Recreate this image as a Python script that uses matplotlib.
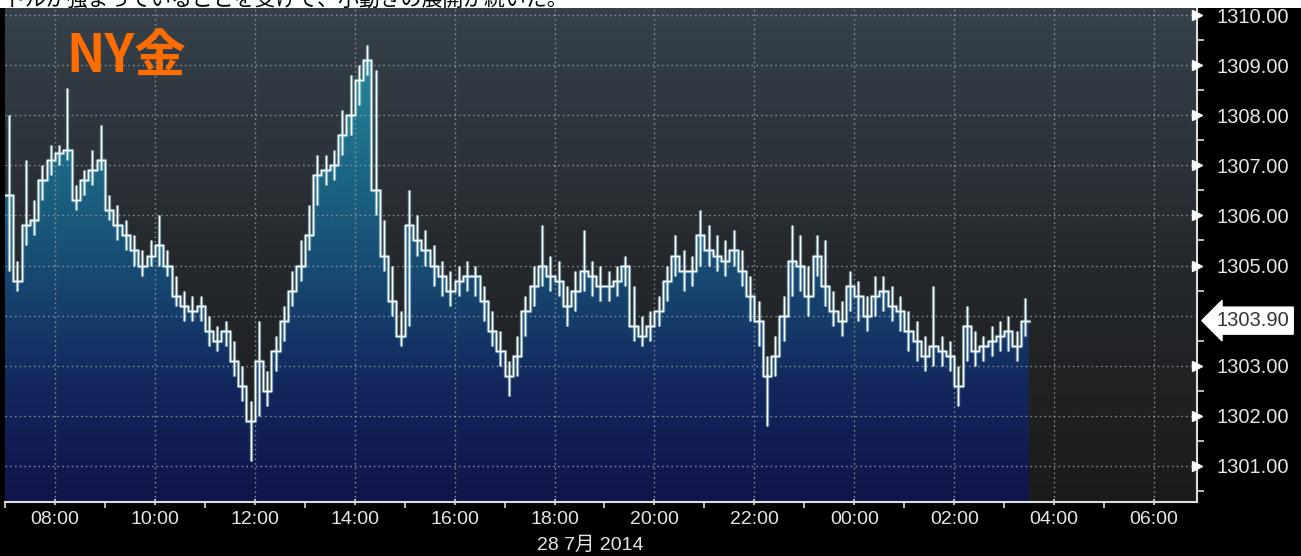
import numpy as np
import matplotlib.pyplot as plt
import matplotlib.transforms as mtransforms
from matplotlib.colors import LinearSegmentedColormap
from matplotlib.patches import Rectangle

# 10-minute bars, NY gold, starting 07:00 on 28 Jul 2014
close = [
    1306.4, 1304.7, 1305.8, 1305.9, 1306.7, 1307.1, 1307.25, 1307.3, 1306.3, 1306.7,
    1306.9, 1307.1, 1306.1, 1305.8, 1305.6, 1305.3, 1305.0, 1305.2, 1305.4, 1305.0,
    1304.4, 1304.2, 1304.1, 1304.2, 1303.7, 1303.5, 1303.7, 1303.1, 1302.6, 1301.9,
    1303.1, 1302.5, 1303.3, 1303.9, 1304.5, 1305.0, 1305.6, 1306.8, 1306.9, 1307.0,
    1307.6, 1308.0, 1308.7, 1309.1, 1306.5, 1305.2, 1304.3, 1303.6, 1305.8, 1305.5,
    1305.3, 1305.0, 1304.8, 1304.5, 1304.7, 1304.8, 1304.8, 1304.3, 1303.7, 1303.3,
    1302.8, 1303.2, 1304.1, 1304.6, 1305.0, 1304.8, 1304.7, 1304.2, 1304.5, 1304.9,
    1304.8, 1304.6, 1304.6, 1304.7, 1305.0, 1303.8, 1303.6, 1303.8, 1304.1, 1304.7,
    1305.2, 1304.9, 1304.9, 1305.6, 1305.3, 1305.2, 1305.1, 1305.3, 1304.9, 1304.4,
    1303.9, 1302.8, 1303.2, 1304.0, 1305.1, 1305.0, 1304.4, 1305.2, 1304.6, 1304.1,
    1303.9, 1304.6, 1304.4, 1304.0, 1304.4, 1304.5, 1304.2, 1304.1, 1303.7, 1303.5,
    1303.2, 1303.4, 1303.3, 1303.2, 1302.6, 1303.8, 1303.3, 1303.4, 1303.5, 1303.6,
    1303.7, 1303.4, 1303.9,
]
low = [
    1304.9, 1304.5, 1305.4, 1305.6, 1306.3, 1306.8, 1307.0, 1307.1, 1306.1, 1306.4,
    1306.6, 1306.9, 1305.9, 1305.5, 1305.3, 1305.0, 1304.8, 1305.0, 1305.0, 1304.8,
    1304.2, 1303.9, 1303.9, 1303.9, 1303.4, 1303.3, 1303.4, 1302.8, 1302.3, 1301.1,
    1302.0, 1302.2, 1302.9, 1303.5, 1304.2, 1304.7, 1305.3, 1306.2, 1306.6, 1306.7,
    1307.2, 1307.6, 1308.2, 1308.8, 1306.0, 1304.9, 1304.0, 1303.4, 1303.8, 1305.2,
    1305.0, 1304.6, 1304.4, 1304.2, 1304.4, 1304.5, 1304.4, 1303.9, 1303.4, 1303.0,
    1302.4, 1302.8, 1303.6, 1304.2, 1304.6, 1304.5, 1304.4, 1303.8, 1304.1, 1304.5,
    1304.4, 1304.3, 1304.3, 1304.4, 1304.6, 1303.5, 1303.4, 1303.5, 1303.8, 1304.3,
    1304.8, 1304.5, 1304.6, 1305.0, 1305.0, 1304.9, 1304.8, 1305.0, 1304.6, 1303.9,
    1303.4, 1301.8, 1302.8, 1303.5, 1304.4, 1304.5, 1304.0, 1304.8, 1304.2, 1303.8,
    1303.6, 1304.1, 1303.9, 1303.7, 1304.0, 1304.1, 1303.9, 1303.7, 1303.3, 1303.1,
    1302.9, 1303.0, 1303.0, 1302.9, 1302.2, 1303.1, 1303.0, 1303.1, 1303.2, 1303.3,
    1303.3, 1303.1, 1303.6,
]
high = [
    1308.0, 1305.1, 1307.1, 1306.3, 1307.0, 1307.4, 1307.4, 1308.55, 1306.6, 1306.9,
    1307.3, 1307.8, 1306.4, 1306.2, 1305.9, 1305.6, 1305.3, 1305.5, 1306.0, 1305.3,
    1304.8, 1304.5, 1304.4, 1304.4, 1304.0, 1303.8, 1303.9, 1303.5, 1303.0, 1302.3,
    1303.9, 1302.9, 1303.6, 1304.2, 1304.9, 1305.5, 1306.2, 1307.2, 1307.2, 1307.3,
    1308.1, 1308.8, 1309.0, 1309.4, 1308.9, 1305.9, 1305.0, 1304.1, 1306.5, 1306.0,
    1305.7, 1305.4, 1305.1, 1304.9, 1305.0, 1305.1, 1305.0, 1304.6, 1304.1, 1303.7,
    1303.1, 1303.6, 1304.4, 1305.0, 1305.8, 1305.2, 1305.1, 1304.6, 1304.9, 1305.7,
    1305.1, 1305.0, 1304.9, 1305.0, 1305.2, 1304.6, 1304.0, 1304.1, 1304.4, 1305.0,
    1305.6, 1305.3, 1305.2, 1306.1, 1305.8, 1305.6, 1305.5, 1305.7, 1305.3, 1304.8,
    1304.3, 1303.2, 1303.6, 1304.4, 1305.8, 1305.6, 1305.0, 1305.6, 1305.5, 1304.5,
    1304.3, 1304.9, 1304.7, 1304.4, 1304.8, 1304.8, 1304.6, 1304.4, 1304.1, 1303.9,
    1303.6, 1304.6, 1303.6, 1303.5, 1303.0, 1304.2, 1303.7, 1303.6, 1303.8, 1303.9,
    1304.0, 1303.7, 1304.35,
]

last_price = 1303.90
grid_levels = [1301, 1302, 1303, 1304, 1305, 1306, 1307, 1308, 1309, 1310]
label_levels = [1301, 1302, 1303, 1305, 1306, 1307, 1308, 1309, 1310]
hour_ticks = [8, 10, 12, 14, 16, 18, 20, 22, 0, 2, 4, 6]
title = "NY金"
caption = "ドルが強まっていることを受けて、小動きの展開が続いた。"
date_label = "28 7月 2014"

W, H = 1301, 556
fig = plt.figure(figsize=(W / 100, H / 100), dpi=100)
fig.patch.set_facecolor("black")
ax = fig.add_axes([5 / W, 54 / H, 1192 / W, 494 / H])

t = np.arange(len(close)) / 6.0          # hours since 07:00
t_step = np.append(t, t[-1] + 1 / 6.0)
c_step = np.append(close, close[-1])

x0, x1 = 0.0, 23.86
y0, y1 = 1300.28, 1310.14
ax.set_xlim(x0, x1)
ax.set_ylim(y0, y1)

# background gradient
bg = LinearSegmentedColormap.from_list("bg", ["#1b1b1c", "#25292d", "#36414b"])
grad = np.linspace(0, 1, 256).reshape(-1, 1)
ax.imshow(grad, aspect="auto", cmap=bg, origin="lower",
          extent=[x0, x1, y0, y1], zorder=0)

# filled area with vertical gradient
fillc = LinearSegmentedColormap.from_list(
    "fill", ["#10144a", "#13275d", "#174a72", "#1d6a88", "#2a8e9c"])
poly = ax.fill_between(t_step, c_step, y0, step="post", color="none", zorder=1)
im = ax.imshow(grad, aspect="auto", cmap=fillc, origin="lower",
               extent=[x0, x1, y0, 1309.5], zorder=1)
im.set_clip_path(poly.get_paths()[0], transform=ax.transData)

# price line with high/low wicks
wick_t = t + 1 / 12
ax.plot(t_step, c_step, drawstyle="steps-post", color="#9fd4e6", lw=2.4,
        alpha=0.55, zorder=3)
ax.vlines(wick_t, low, high, color="#9fd4e6", lw=2.4, alpha=0.55, zorder=3)
ax.plot(t_step, c_step, drawstyle="steps-post", color="white", lw=1.0, zorder=4)
ax.vlines(wick_t, low, high, color="white", lw=1.0, zorder=4)

# grid
for yv in grid_levels:
    ax.axhline(yv, color="#9a9fa5", lw=1, ls=(0, (1.2, 2.2)), alpha=0.8, zorder=2)
major_x = [(h - 7) % 24 for h in hour_ticks]
for xv in major_x:
    ax.axvline(xv, color="#9a9fa5", lw=1, ls=(0, (1.2, 2.2)), alpha=0.8, zorder=2)

# axes styling
for s in ["top", "left"]:
    ax.spines[s].set_visible(False)
ax.spines["right"].set_color("#dddddd")
ax.spines["bottom"].set_color("#dddddd")
ax.spines["right"].set_linewidth(1.5)
ax.spines["bottom"].set_linewidth(1.5)

ax.set_xticks(major_x)
ax.set_xticklabels(["%02d:00" % h for h in hour_ticks])
ax.set_xticks([v for v in range(0, 24, 2)], minor=True)
ax.tick_params(axis="x", which="major", colors="#dddddd", length=5, width=1.2,
               direction="inout", labelsize=14, pad=4)
ax.tick_params(axis="x", which="minor", colors="#dddddd", length=4, width=1.2,
               direction="out")
for lab in ax.get_xticklabels():
    lab.set_family("Liberation Sans")
    lab.set_color("#e6e6e6")

ax.yaxis.tick_right()
ax.set_yticks(label_levels)
ax.set_yticklabels(["%.2f" % v for v in label_levels])
ax.set_yticks([v + 0.5 for v in range(1300, 1310)], minor=True)
ax.tick_params(axis="y", which="major", colors="#dddddd", length=0, labelsize=14.5,
               pad=14)
ax.tick_params(axis="y", which="minor", colors="#dddddd", length=5, width=1.2,
               direction="out")
for lab in ax.get_yticklabels():
    lab.set_family("Liberation Sans")
    lab.set_color("#e6e6e6")

# triangle markers on the right axis
trans = mtransforms.blended_transform_factory(ax.transAxes, ax.transData)
ax.plot([1.0] * len(label_levels), label_levels, ls="none", marker=">", ms=7,
        color="white", transform=trans, clip_on=False, zorder=6)

# last value tag
ax.annotate("%.2f" % last_price, xy=(1.0, last_price), xycoords=trans,
            xytext=(14, 0), textcoords="offset points", va="center", ha="left",
            fontsize=14.5, family="Liberation Sans", color="#333333",
            bbox=dict(boxstyle="larrow,pad=0.2", fc="white", ec="white"),
            annotation_clip=False, zorder=7)

# title in the plot
fig.text(66 / W, 1 - 56 / H, title, color="#ff6c00", fontsize=37,
         fontweight="bold", va="center", ha="left",
         family=["Noto Sans CJK JP", "DejaVu Sans"])

# date under x axis
fig.text(590 / W, 1 - 545 / H, date_label, color="#e6e6e6", fontsize=14,
         va="center", ha="center", family=["Liberation Sans", "Noto Sans CJK JP"])

# white strip with cropped caption on top
fig.patches.append(Rectangle((0, 1 - 8 / H), 1, 8 / H, transform=fig.transFigure,
                             fc="white", ec="none", zorder=10))
fig.text(5 / W, 1 - 6 / H, caption, color="black", fontsize=15, va="baseline",
         ha="left", family=["Noto Sans CJK JP", "DejaVu Sans"], zorder=11)

fig.savefig("out.png", dpi=100, facecolor="black")
